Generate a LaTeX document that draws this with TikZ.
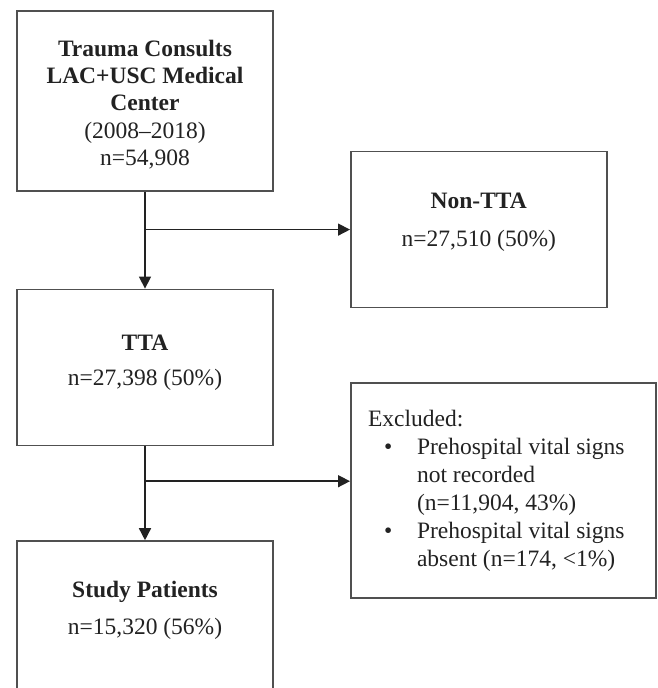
\documentclass[tikz,border=0pt]{standalone}
\usepackage{fontspec}
\setmainfont{Liberation Serif}
\usepackage{xcolor}
\usetikzlibrary{positioning, arrows.meta}

\definecolor{inkgray}{HTML}{222222}
\definecolor{boxgray}{HTML}{505050}

\begin{document}
\begin{tikzpicture}[
        every node/.style={font=\fontsize{11.75}{13.5}\selectfont, text=inkgray, align=center},
        stage/.style={rectangle, draw=boxgray, line width=0.8pt, minimum width=128pt, minimum height=78pt, inner sep=0pt},
        source/.style={stage, minimum height=90pt, font=\fontsize{11.75}{13.7}\selectfont},
        exclbox/.style={rectangle, draw=boxgray, line width=0.8pt, minimum width=152.5pt, minimum height=107.5pt, align=left, inner sep=0pt},
        arrow/.style={-{Triangle[length=6pt, width=6pt]}, line width=0.75pt, draw=inkgray},
        line/.style={-, line width=0.75pt, draw=inkgray}
    ]
%
    \useasboundingbox[fill=white] (0,0) rectangle (328.5pt,-344pt);
%
    % Niveau 1 : consults
    \node[source, anchor=north] (consults) at (72.5pt,-5pt) {\rule{0pt}{12pt}\textbf{Trauma Consults}\\\textbf{LAC+USC Medical}\\\textbf{Center}\\(2008--2018)\\n=54,908};
%
    % Niveau 2 : TTA / Non-TTA
    \node[stage, below=48.5pt of consults] (tta) {\textbf{TTA}\\[4pt]n=27,398 (50\%)\\[-6pt]};
    \draw[line] (consults.south) -- ++(0,-19pt) coordinate (mid0);
    \node[stage, right=102.5pt of mid0] (nontta) {\textbf{Non-TTA}\\[5.5pt]n=27,510 (50\%)\\[-4pt]};
    \draw[arrow] (mid0) -- (tta.north);
    \draw[arrow] (mid0) -- (nontta.west);
%
    % Niveau 3 : study patients / excluded
    \node[stage, below=47pt of tta] (study) {\textbf{Study Patients}\\[5pt]n=15,320 (56\%)\\[-2pt]};
    \draw[line] (tta.south) -- ++(0,-17.5pt) coordinate (mid1);
    \node[exclbox, right=102.5pt of mid1, yshift=-4.75pt] (excl) {%
        \renewcommand{\arraystretch}{1.04}%
        \begin{tabular}{@{\hspace{16.5pt}}l@{\hspace{12.4pt}}l@{\hspace{15.5pt}}}
            \multicolumn{2}{@{\hspace{8.5pt}}l@{}}{Excluded:}\\
            \textbullet & Prehospital vital signs\\
                        & not recorded\\
                        & (n=11,904, 43\%)\\
            \textbullet & Prehospital vital signs\\
                        & absent (n=174, <1\%)
        \end{tabular}};
    \draw[arrow] (mid1) -- (study.north);
    \draw[arrow] (mid1) -- (mid1 -| excl.west);
%
    \end{tikzpicture}
\end{document}
